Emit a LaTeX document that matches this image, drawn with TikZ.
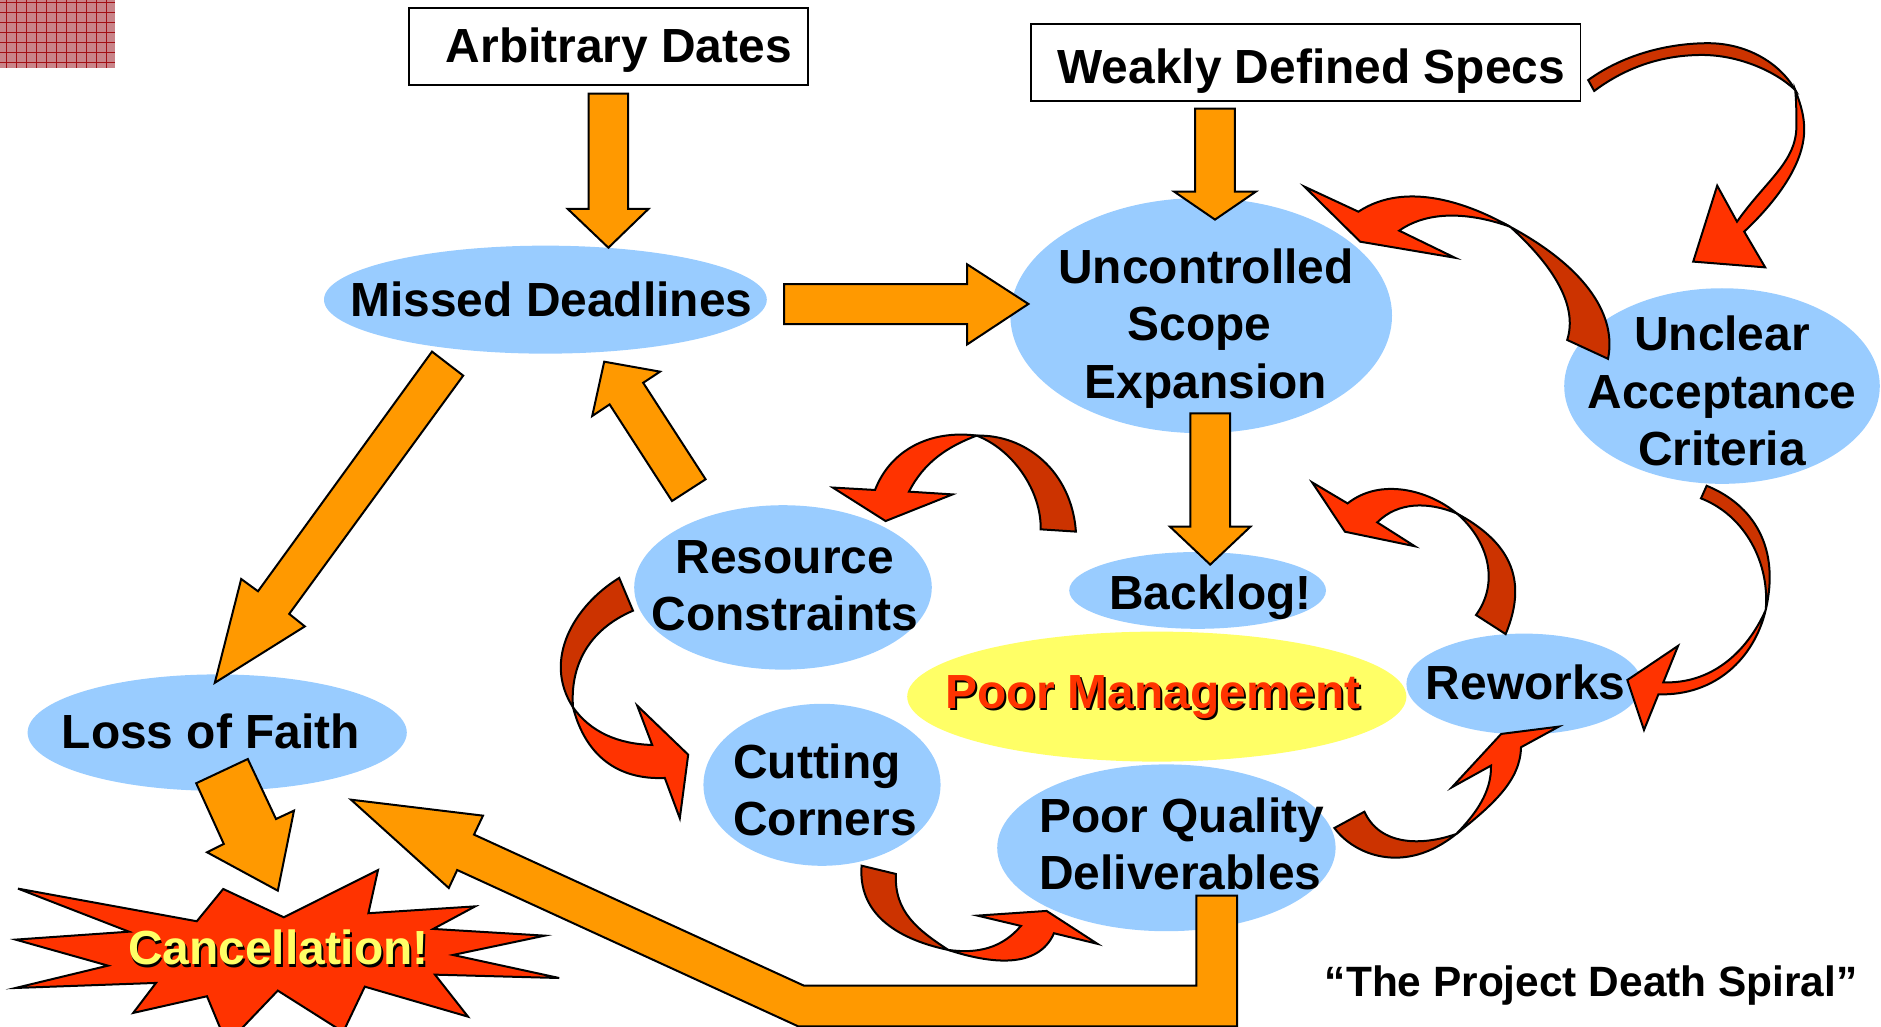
\documentclass[tikz,border=0pt]{standalone}
\usepackage{fontspec}
\setmainfont{Liberation Sans}
\usetikzlibrary{shapes.geometric}
\definecolor{bubbleblue}{HTML}{99CCFF}
\definecolor{arroworange}{HTML}{FF9900}
\definecolor{burstred}{HTML}{FF3300}
\definecolor{ribbondark}{HTML}{CC3300}
\definecolor{lemon}{HTML}{FFFF66}
\definecolor{swatchpink}{HTML}{C98489}
\definecolor{swatchline}{HTML}{A30F14}
\newcommand{\bubblenode}[5]{%
    \node[bubble, minimum width=#4*1.2pt, minimum height=#5*1.2pt] (#1) at (#2, #3) {};
}

\begin{document}
\begin{tikzpicture}
    [ x=.6pt, y=-.6pt,
      font={\bfseries\fontsize{23.95}{28.8}\selectfont},
      bubble/.style={ellipse, fill=bubbleblue, inner sep=0pt, outer sep=0pt},
      causebox/.style={draw=black, line width=.9pt, fill=white, inner sep=0pt},
      label/.style={anchor=base, inner sep=0pt, outer sep=0pt, align=center},
      block/.style={fill=arroworange, draw=black, line width=1pt},
      ribbonfront/.style={fill=burstred, draw=black, line width=1pt},
      ribbonback/.style={fill=ribbondark, draw=black, line width=1pt}
    ]
    \useasboundingbox (0, 0) rectangle (1567.5, 855.8);
    \clip (0, 0) rectangle (1567.5, 855.8);

    % Swatch in the corner
    \fill[swatchpink] (0, 0) rectangle (96, 57);
    \foreach \i in {0, ..., 10} {
        \draw[swatchline, line width=.5pt] (5.6 + \i * 8.33, 0) -- (5.6 + \i * 8.33, 57);
    }
    \foreach \j in {0, ..., 6} {
        \draw[swatchline, line width=.5pt] (0, 2.2 + \j * 8.33) -- (96, 2.2 + \j * 8.33);
    }

    % Causes
    \node[causebox, minimum width=199.5pt, minimum height=38.7pt] (dates) at (507.2, 38.7) {};
    \node[causebox, minimum width=274.8pt, minimum height=38.4pt] (specs) at (1088, 52) {};

    % Bubbles
    \bubblenode{missed}{454.5}{249.7}{184.5}{45}
    \bubblenode{scopeexp}{1001}{263}{159}{98}
    \bubblenode{unclear}{1435}{321.7}{131.5}{81.5}
    \bubblenode{resource}{652.5}{489.5}{124}{68.5}
    \bubblenode{loss}{181}{610.5}{158}{48.5}
    \bubblenode{cutting}{685}{654}{98.8}{67.5}
    \bubblenode{backlog}{998}{492}{107}{32}
    \bubblenode{reworks}{1270}{570}{98}{42}
    \bubblenode{quality}{972}{706.5}{141}{69.5}
    \node[bubble, fill=lemon, minimum width=249.6pt, minimum height=65pt] (management) at (964, 580.5) {};

    % Burst
    \path[ribbonfront] (15, 740.5) -- (164, 767.7) -- (186, 740.8) -- (236.5, 764.4)
        -- (315, 725) -- (307, 761) -- (396, 755.3) -- (361, 774.1) -- (454, 779.7)
        -- (377.5, 795.8) -- (466, 815) -- (362.5, 812.2) -- (390, 847.2) -- (304, 822.2)
        -- (286, 860) -- (231.5, 825.5) -- (189, 870) -- (172.5, 830.2)
        -- (111, 844.1) -- (130, 819.1) -- (13, 823.3) -- (90, 804.7) -- (13, 783)
        -- (107.5, 776.4) -- cycle;

    % Orange arrows
    \path[block] (490.5, 78) -- (523.5, 78) -- (523.5, 174) -- (540.5, 174)
        -- (507, 206.4) -- (473, 174) -- (490.5, 174) -- cycle;
    \path[block] (653.5, 236.7) -- (806, 236.7) -- (806, 220.3) -- (857, 253.3)
        -- (806, 287) -- (806, 270) -- (653.5, 270) -- cycle;
    \path[block] (996, 90.5) -- (1029, 90.5) -- (1029, 159.7) -- (1046.5, 159.7)
        -- (1012.5, 183) -- (978.5, 159.7) -- (996, 159.7) -- cycle;
    \path[block] (992, 344.4) -- (1025, 344.4) -- (1025, 438.9) -- (1042, 438.9)
        -- (1008.5, 470.5) -- (975, 438.9) -- (992, 438.9) -- cycle;
    \path[block] (360, 293) -- (386, 313) -- (241, 511.6) -- (254, 522)
        -- (179, 569) -- (201, 482.5) -- (215, 492.7) -- cycle;
    \path[block] (503.5, 301.4) -- (550, 309.7) -- (536, 319) -- (588, 399.4)
        -- (560, 417.5) -- (508, 337) -- (493.5, 346.7) -- cycle;
    \path[block] (206.5, 632.5) -- (230, 682.5) -- (245, 675.5) -- (231.5, 742.2)
        -- (172.5, 710.2) -- (186.5, 703.3) -- (163.5, 652.7) -- cycle;
    \path[block] (292.5, 666.4) -- (402.5, 679.7) -- (395, 695.5) -- (670, 821.4)
        -- (997, 821.4) -- (997, 746.4) -- (1031, 746.4) -- (1031, 855.2) -- (665, 855.2)
        -- (381, 725) -- (374, 740) -- cycle;

    % Specs to criteria
    \path[ribbonback] (1323.5, 66.7) .. controls (1355, 44) and (1393, 36) .. (1423.5, 36)
        .. controls (1455, 36) and (1483, 52) .. (1496, 75)
        .. controls (1478, 58) and (1447, 45.8) .. (1418.5, 45.8)
        .. controls (1385, 45.8) and (1355, 56) .. (1328.5, 75.8) -- cycle;
    \path[ribbonfront] (1496, 75) .. controls (1501, 88) and (1503.5, 97) .. (1503.5, 108)
        .. controls (1503.5, 137) and (1480, 168) .. (1453.5, 193)
        -- (1471, 222.8) -- (1411, 218) -- (1431, 154.7) -- (1447.5, 184.7)
        .. controls (1472, 150) and (1497, 135) .. (1497, 105)
        .. controls (1497, 95) and (1497, 85) .. (1496, 75) -- cycle;

    % Criteria to scope
    \path[ribbonback] (1340, 299) .. controls (1347, 265) and (1325, 225) .. (1258.5, 189)
        .. controls (1295, 222) and (1315, 255) .. (1306, 283.3) -- cycle;
    \path[ribbonfront] (1258.5, 189) .. controls (1225, 170) and (1172, 150) .. (1132, 176.4)
        -- (1087, 155.5) -- (1133.5, 201.4) -- (1212.5, 214.8) -- (1166, 192.2)
        .. controls (1192, 174) and (1228, 178) .. (1258.5, 189) -- cycle;

    % Criteria to reworks
    \path[ribbonback] (1422.2, 404.8) .. controls (1455, 418) and (1485, 450) .. (1471.4, 508.4)
        .. controls (1475, 470) and (1455, 430) .. (1417.5, 415.3) -- cycle;
    \path[ribbonfront] (1471.4, 508.4) .. controls (1462, 548) and (1430, 580) .. (1382, 578.6)
        -- (1370, 608.3) -- (1356.1, 566.7) -- (1398.4, 538.2) -- (1386.1, 568.6)
        .. controls (1425, 570) and (1455, 545) .. (1471.4, 508.4) -- cycle;

    % Reworks to backlog
    \path[ribbonback] (1254.7, 528.4) .. controls (1275, 480) and (1255, 450) .. (1213.9, 427.8)
        .. controls (1240, 450) and (1250, 485) .. (1230, 512.5) -- cycle;
    \path[ribbonfront] (1213.9, 427.8) .. controls (1190, 408) and (1150, 398) .. (1123, 419.5)
        -- (1093.5, 402) -- (1120.8, 443.1) -- (1179, 455.2) -- (1147.7, 435.3)
        .. controls (1165, 418) and (1190, 418) .. (1213.9, 427.8) -- cycle;

    % Backlog to resources
    \path[ribbonback] (896.6, 443) .. controls (893, 393) and (855, 362) .. (813.9, 363)
        .. controls (845, 375) and (868, 410) .. (867.2, 441.1) -- cycle;
    \path[ribbonfront] (813.9, 363) .. controls (775, 358) and (742, 375) .. (729.2, 408.3)
        -- (694, 406.3) -- (738, 434.2) -- (793.8, 412) -- (757.5, 409.7)
        .. controls (770, 385) and (790, 372) .. (813.9, 363) -- cycle;

    % Resources to corners
    \path[ribbonback] (516, 481.6) .. controls (478, 505) and (452, 550) .. (477.5, 589.4)
        .. controls (475, 555) and (490, 525) .. (527.5, 508.9) -- cycle;
    \path[ribbonfront] (477.5, 589.4) .. controls (488, 630) and (515, 650) .. (554, 648.3)
        -- (566.5, 681.9) -- (573.5, 628.9) -- (531, 588) -- (543.5, 620.8)
        .. controls (515, 620) and (492, 610) .. (477.5, 589.4) -- cycle;

    % Corners to quality
    \path[ribbonback] (718, 721.4) .. controls (715, 760) and (745, 782) .. (790.2, 791.6)
        .. controls (765, 775) and (745, 760) .. (746.6, 728.3) -- cycle;
    \path[ribbonfront] (790.2, 791.6) .. controls (825, 803) and (865, 808) .. (878.3, 777.7)
        -- (914.5, 786.5) -- (872.2, 759.1) -- (814.5, 763) -- (850.8, 771.6)
        .. controls (835, 790) and (815, 795) .. (790.2, 791.6) -- cycle;

    % Quality to reworks
    \path[ribbonback] (1112, 690) .. controls (1128, 712) and (1170, 730) .. (1213.5, 695)
        .. controls (1185, 705) and (1150, 705) .. (1137, 676.4) -- cycle;
    \path[ribbonfront] (1213.5, 695) .. controls (1245, 670) and (1267, 650) .. (1267.5, 622.7)
        -- (1299, 605.5) -- (1251, 611.6) -- (1210, 656) -- (1242.5, 638)
        .. controls (1243, 660) and (1230, 678) .. (1213.5, 695) -- cycle;

    % Labels
    \node[label] (datestext) at (515.7, 52.2) {Arbitrary Dates};
    \node[label] (specstext) at (1092.7, 69.4) {Weakly Defined Specs};
    \node[label] (missedtext) at (459.5, 264) {Missed Deadlines};
    \node[label] (scopetext) at (1005, 332) {Uncontrolled\\\mbox{Scope\hspace{.278em}}\\Expansion};
    \node[label] (uncleartext) at (1435, 388) {Unclear\\Acceptance\\Criteria};
    \node[label] (resourcetext) at (654, 525.5) {Resource\\Constraints};
    \node[label] (losstext) at (175.7, 623.6) {Loss of Faith};
    \node[label, align=left, anchor=base west] (cuttingtext) at (611, 696.6) {Cutting\\Corners};
    \node[label] (backlogtext) at (1008.7, 508) {Backlog!};
    \node[label] (reworkstext) at (1271.5, 582.5) {Reworks};
    \node[label, align=left, anchor=base west] (qualitytext) at (866, 741.4) {Poor Quality\\Deliverables};
    \node[label] (managementshadow) at (962.5, 592) {Poor Management};
    \node[label, text=burstred] (managementtext) at (961, 590) {Poor Management};
    \node[label] (cancelshadow) at (233.5, 805.9) {Cancellation!};
    \node[label, text=lemon] (canceltext) at (232, 803.9) {Cancellation!};
    \node[label, font={\bfseries\fontsize{21.2}{25}\selectfont}] (spiraltext) at (1326, 830.3) {“The Project Death Spiral”};
\end{tikzpicture}
\end{document}
